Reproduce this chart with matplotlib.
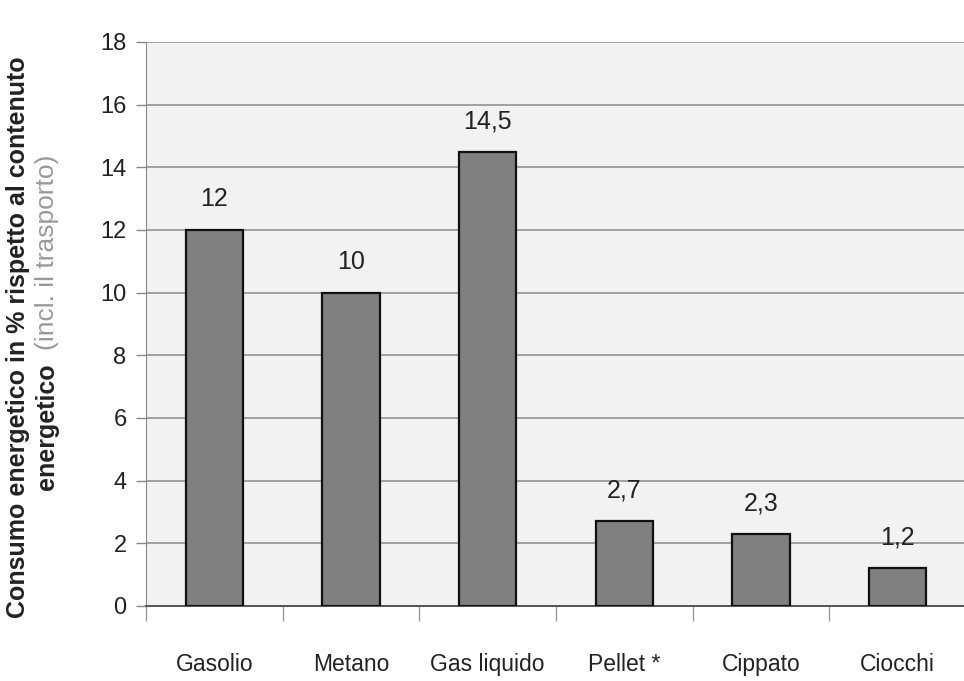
import matplotlib

matplotlib.use("Agg")
import matplotlib.pyplot as plt
import numpy as np

categories = ["Gasolio", "Metano", "Gas liquido", "Pellet *", "Cippato", "Ciocchi"]
values = [12, 10, 14.5, 2.7, 2.3, 1.2]
value_labels = ["12", "10", "14,5", "2,7", "2,3", "1,2"]
y_ticks = [0, 2, 4, 6, 8, 10, 12, 14, 16, 18]

plt.rcParams["font.family"] = ["Liberation Sans", "DejaVu Sans"]
TEXT = "#222222"

fig = plt.figure(figsize=(9.64, 6.81), dpi=100)
ax = fig.add_axes([146 / 964, 1 - 606 / 681, 820 / 964, 564 / 681])
ax.set_facecolor("#f2f2f2")

x = np.arange(len(categories))
ax.bar(x, values, width=0.42, color="#808080", edgecolor="#111111", linewidth=1.6, zorder=3)

for xi, v, lab in zip(x, values, value_labels):
    ax.annotate(lab, (xi, v), xytext=(0, 17), textcoords="offset points",
                ha="center", va="baseline", fontsize=18, color=TEXT)

ax.set_xlim(-0.5, len(categories) - 0.5)
ax.set_ylim(0, 18)
ax.set_yticks(y_ticks)
ax.set_yticklabels([str(t) for t in y_ticks], fontsize=17, color=TEXT)
ax.yaxis.grid(True, color="#9a9a9a", linewidth=1.3, zorder=0)
ax.set_axisbelow(True)

# category names centred under bars, tick marks on the category boundaries
ax.set_xticks(x)
ax.set_xticklabels(categories, fontsize=16.5, color=TEXT)
ax.tick_params(axis="x", length=0, pad=34)
ax.set_xticks(np.arange(-0.5, len(categories)), minor=True)
ax.tick_params(axis="x", which="minor", length=11, color="#999999", width=1)
ax.tick_params(axis="y", length=7, color="#888888", width=1, pad=7)

for side in ("top", "right"):
    ax.spines[side].set_visible(False)
ax.spines["left"].set_color("#888888")
ax.spines["bottom"].set_color("#555555")
ax.spines["bottom"].set_linewidth(1.4)

# two-line y label, second line mixes bold and light grey text
fig.text(18 / 964, 1 - 337 / 681, "Consumo energetico in % rispetto al contenuto",
         rotation=90, ha="center", va="center", fontsize=18, fontweight="bold", color=TEXT)
fig.text(47 / 964, 1 - 490 / 681, "energetico", rotation=90, ha="center", va="bottom",
         fontsize=18, fontweight="bold", color=TEXT)
fig.text(47 / 964, 1 - 350 / 681, "(incl. il trasporto)", rotation=90, ha="center", va="bottom",
         fontsize=19, color="#999999")

fig.savefig("out.png", dpi=100)
